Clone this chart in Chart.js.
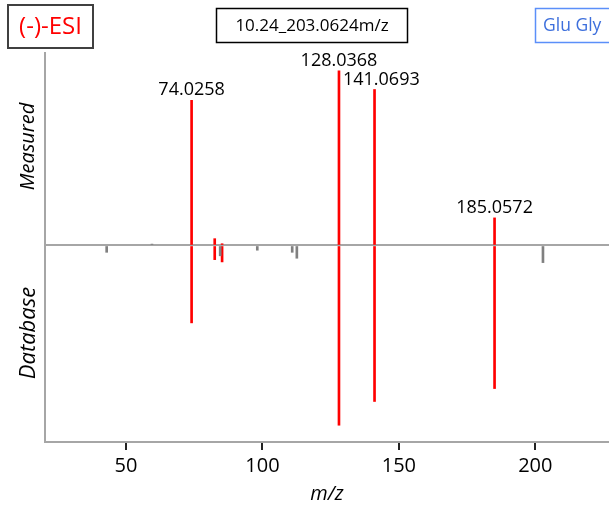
<!DOCTYPE html>
<html>
<head>
<meta charset="utf-8">
<script src="https://cdn.jsdelivr.net/npm/chart.js@4"></script>
<style>
  html, body { margin: 0; padding: 0; background: #fff; }
  #chart { display: block; }
</style>
</head>
<body>
<canvas id="chart" width="609" height="506"></canvas>
<script>
// matched fragments (red): m/z, measured intensity (up), database intensity (down)
const matchedMz = [74.0258, 82.5, 85.2, 128.0368, 141.0693, 185.0572];
const measuredMatched = [83.1, 3.9, 1.0, 100, 89.3, 15.8];
const databaseMatched = [-44.3, -8.1, -9.4, -102.9, -89.3, -81.9];

// unmatched peaks (grey)
const measuredOtherMz = [59.5];
const measuredOther = [0.8];
const databaseOtherMz = [42.9, 84.5, 98.1, 110.9, 112.6, 202.8];
const databaseOther = [-3.9, -5.9, -2.7, -3.9, -7.3, -9.8];

const labeledMz = [74.0258, 128.0368, 141.0693, 185.0572];
const xTicks = [50, 100, 150, 200];

const FONT = '"Open Sans", "Noto Sans", sans-serif';

function points(xs, ys) {
    return xs.map((x, i) => ({ x: x, y: ys[i] }));
}

// m/z labels over the labelled peaks, nudged right if they would sit on a taller line
const peakLabels = {
    id: 'peakLabels',
    afterDatasetsDraw(chart) {
        const { ctx, scales: { x, y } } = chart;
        ctx.save();
        ctx.font = '18px ' + FONT;
        ctx.fillStyle = '#000';
        ctx.textBaseline = 'alphabetic';
        const lines = labeledMz.map(mz => {
            const i = matchedMz.indexOf(mz);
            return { x: x.getPixelForValue(mz), top: y.getPixelForValue(measuredMatched[i]) };
        });
        lines.forEach((ln, k) => {
            const text = labeledMz[k].toFixed(4);
            const w = ctx.measureText(text).width;
            const base = ln.top - 5;
            let left = ln.x - w / 2;
            lines.forEach((other, j) => {
                if (j !== k && other.top < base && other.x > left - 2 && other.x < left + w) {
                    left = other.x + 4;
                }
            });
            ctx.fillText(text, left, base);
        });
        ctx.restore();
    }
};

// header boxes and the two side labels
const decorations = {
    id: 'decorations',
    afterDraw(chart) {
        const ctx = chart.ctx;
        ctx.save();
        ctx.textBaseline = 'middle';

        ctx.lineWidth = 2;
        ctx.strokeStyle = '#404040';
        ctx.strokeRect(8, 5, 85, 43);
        ctx.fillStyle = '#ff0000';
        ctx.font = '24px ' + FONT;
        ctx.textAlign = 'center';
        ctx.fillText('(-)-ESI', 50.5, 27);

        ctx.lineWidth = 1.5;
        ctx.strokeStyle = '#000';
        ctx.strokeRect(216.5, 8.5, 191, 34);
        ctx.fillStyle = '#000';
        ctx.font = '17px ' + FONT;
        ctx.fillText('10.24_203.0624m/z', 312, 26);

        ctx.strokeStyle = '#5b8ff9';
        ctx.strokeRect(535.5, 8.5, 80, 34);
        ctx.fillStyle = '#3d6fdc';
        ctx.font = '17.5px ' + FONT;
        ctx.textAlign = 'left';
        ctx.fillText('Glu Gly', 543, 26);

        ctx.fillStyle = '#000';
        ctx.textAlign = 'center';
        [['Measured', 146.5, 20], ['Database', 333, 22]].forEach(([t, cy, size]) => {
            ctx.save();
            ctx.font = 'italic ' + size + 'px ' + FONT;
            ctx.translate(28.5, cy);
            ctx.rotate(-Math.PI / 2);
            ctx.fillText(t, 0, 0);
            ctx.restore();
        });
        ctx.restore();
    }
};

new Chart(document.getElementById('chart'), {
    type: 'bar',
    data: {
        datasets: [
            { data: points(databaseOtherMz, databaseOther), backgroundColor: '#808080' },
            { data: points(measuredOtherMz, measuredOther), backgroundColor: '#808080' },
            { data: points(matchedMz, measuredMatched), backgroundColor: '#ff0000' },
            { data: points(matchedMz, databaseMatched), backgroundColor: '#ff0000' }
        ]
    },
    options: {
        responsive: false,
        animation: false,
        layout: { padding: { left: 45, top: 53, right: 0, bottom: 0 } },
        plugins: { legend: { display: false }, tooltip: { enabled: false } },
        datasets: { bar: { barThickness: 2, grouped: false } },
        scales: {
            x: {
                type: 'linear',
                offset: false,
                min: 20.3,
                max: 227,
                afterBuildTicks: axis => { axis.ticks = xTicks.map(v => ({ value: v })); },
                ticks: { font: { family: FONT, size: 20 }, color: '#000', padding: 4 },
                grid: { offset: false, drawOnChartArea: false, tickLength: 8, color: '#222', lineWidth: 2 },
                border: { color: '#a6a6a6', width: 2 },
                title: {
                    display: true,
                    text: 'm/z',
                    color: '#000',
                    font: { family: FONT, size: 20, style: 'italic' },
                    padding: { top: 0, bottom: 0 }
                }
            },
            y: {
                min: -112.5,
                max: 110.2,
                ticks: { display: false, stepSize: 10 },
                grid: {
                    drawTicks: false,
                    lineWidth: 2,
                    color: c => (c.tick.value === 0 ? '#a6a6a6' : 'transparent')
                },
                border: { color: '#a6a6a6', width: 2 }
            }
        }
    },
    plugins: [peakLabels, decorations]
});
</script>
</body>
</html>
